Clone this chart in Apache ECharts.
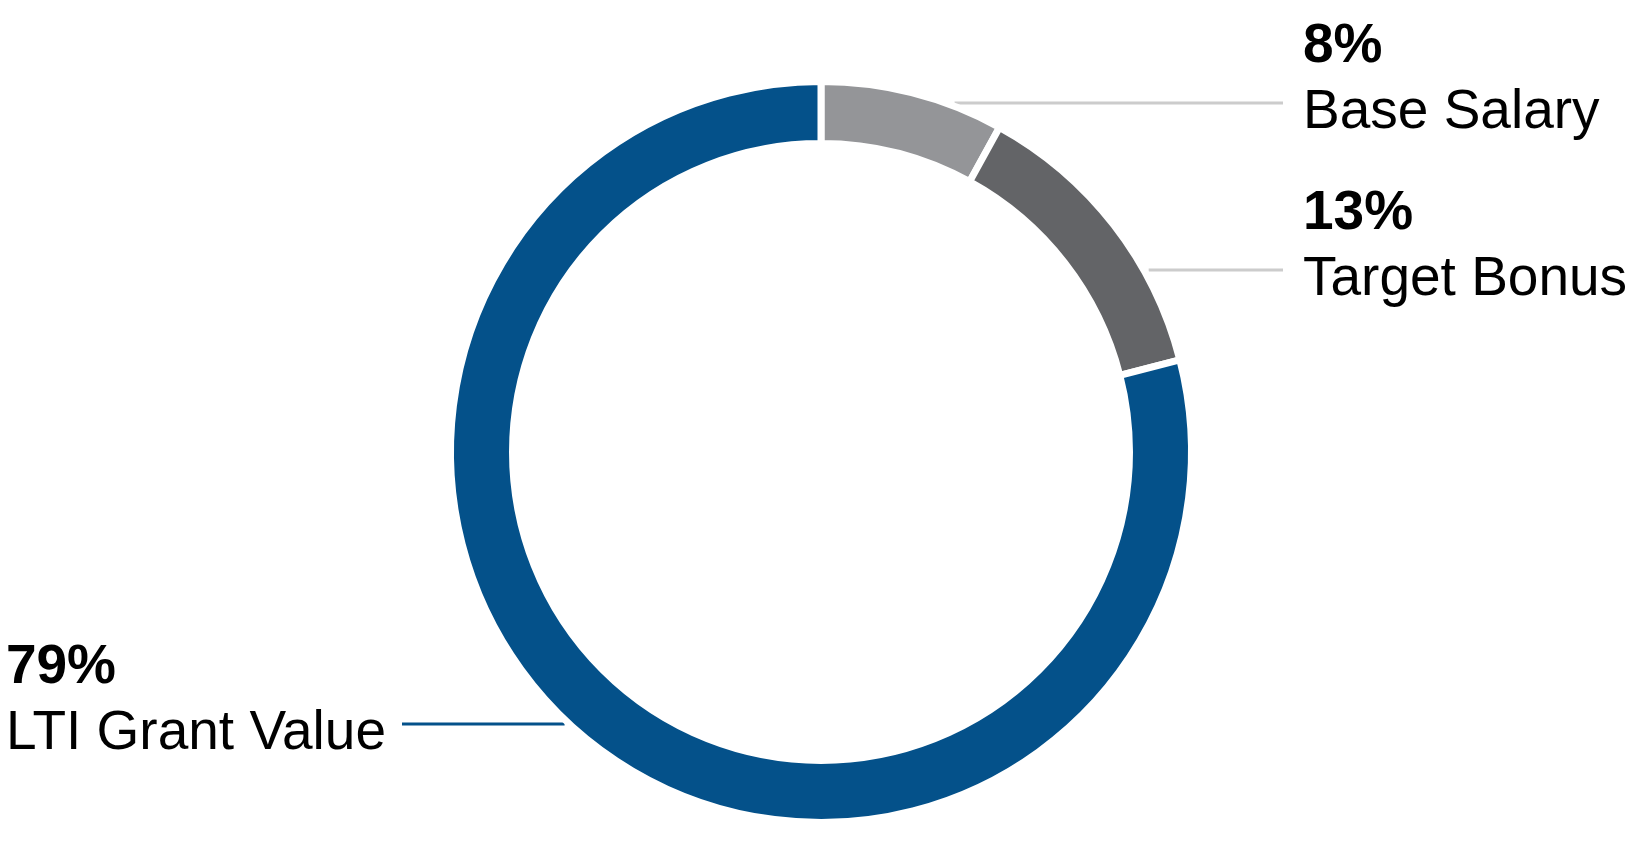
<!DOCTYPE html>
<html>
<head>
<meta charset="utf-8">
<script src="https://cdn.jsdelivr.net/npm/echarts@6/dist/echarts.min.js"></script>
<style>
html,body{margin:0;padding:0;background:#fff;}
#chart{width:1638px;height:841px;}
</style>
</head>
<body>
<div id="chart"></div>
<script>
// ---- data ----
const categories = ['Base Salary', 'Target Bonus', 'LTI Grant Value'];
const shares = [8, 13, 79];
const pctLabels = ['8%', '13%', '79%'];

// ---- layout / style ----
const CX = 821, CY = 452, R_OUT = 367, R_IN = 312, GAP = 7;
const sliceColors = ['#949598', '#636467', '#04518a'];
const lineColors = ['#cccccc', '#cccccc', '#04518a'];
const lineY = [103, 270, 724];
const lineGap = [20, 9, 10];
const RIGHT_LINE_END = 1283, RIGHT_TEXT_X = 1303;
const LEFT_LINE_END = 402, LEFT_TEXT_X = 386;
const FONT = '"Liberation Sans", Arial, Helvetica, sans-serif';

const chart = echarts.init(document.getElementById('chart'), null, {renderer: 'canvas'});

const data = categories.map((name, i) => ({
  name: name,
  value: shares[i],
  itemStyle: {color: sliceColors[i]},
  labelLine: {lineStyle: {color: lineColors[i], width: 3}}
}));

chart.setOption({
  backgroundColor: '#ffffff',
  animation: false,
  series: [{
    type: 'pie',
    center: [CX, CY],
    radius: [R_IN - GAP / 2, R_OUT + GAP / 2],
    startAngle: 90,
    clockwise: true,
    avoidLabelOverlap: false,
    itemStyle: {borderColor: '#ffffff', borderWidth: GAP},
    emphasis: {disabled: true},
    data: data,
    label: {
      show: true,
      position: 'outside',
      fontFamily: FONT,
      formatter: p => '{p|' + pctLabels[p.dataIndex] + '}\n{n|' + p.name + '}',
      rich: {
        p: {fontFamily: FONT, fontSize: 55, fontWeight: 'bold', color: '#000', lineHeight: 66, align: 'left'},
        n: {fontFamily: FONT, fontSize: 55, color: '#000', lineHeight: 66, align: 'left'}
      }
    },
    labelLine: {show: true, length: 10, length2: 10, smooth: false},
    labelLayout: function (params) {
      const i = params.dataIndex;
      const right = i < 2;
      const s = right ? 1 : -1;
      const y = lineY[i];
      const ringX = CX + s * Math.sqrt(R_OUT * R_OUT - (y - CY) * (y - CY));
      const startX = ringX + s * lineGap[i];
      const endX = right ? RIGHT_LINE_END : LEFT_LINE_END;
      return {
        x: right ? RIGHT_TEXT_X : LEFT_TEXT_X,
        y: y - 23,
        align: right ? 'left' : 'right',
        verticalAlign: 'middle',
        labelLinePoints: [[startX, y], [(startX + endX) / 2, y], [endX, y]]
      };
    }
  }]
});
</script>
</body>
</html>
